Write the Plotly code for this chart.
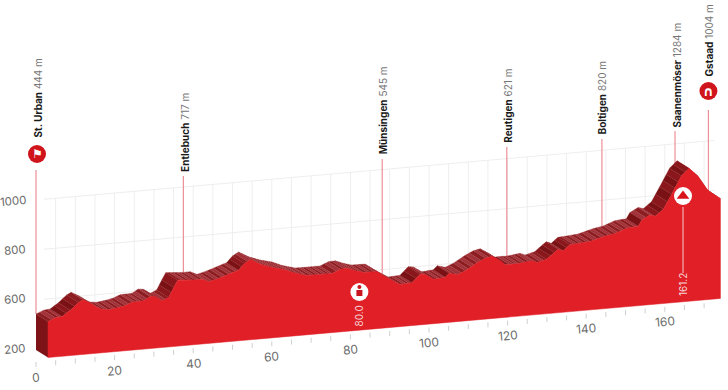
import plotly.graph_objects as go

# ---- data ----
KM = [0,1.9,3.6,5.7,7.8,8.9,10.8,12.5,13.7,15.4,18,19.7,21.4,24.4,26,27.3,29,30.7,32,33,37.5,39.2,40.9,43.4,46,48.5,50,51.5,54,57,60,62.5,65.9,69.3,72.3,74.4,76.1,78.2,80.3,83.7,85.8,88.4,89.6,92.6,94.7,96,98.1,101.1,102.1,104.1,106.2,109.2,111.3,113,115.1,116.3,118.4,119.8,123.1,124.4,126.9,129.8,131.1,132.8,135.4,137.9,141.7,144.3,147.3,150.2,151.1,153.2,154.5,156.6,158.7,161.2,163.1,165.4,167.9,171.1]
ELEV = [444,470,477,524,585,605,570,528,507,499,511,523,547,550,582,576,536,560,643,703,692,693,665,686,716,743,797,826,779,741,715,678,645,644,644,674,677,649,628,626,574,520,497,502,570,564,516,525,557,537,566,626,659,671,626,587,589,587,601,583,604,682,664,711,717,724,759,774,812,820,870,909,894,948,1071,1224,1283,1207,1076,997]
PLACES = ["St. Urban","Entlebuch","Münsingen","Reutigen","Boltigen","Saanenmöser","Gstaad"]
PLACE_ALT = ["444 m","717 m","545 m","621 m","820 m","1284 m","1004 m"]
PLACE_KM = [0,37.5,88.1,119.8,144,162.6,171.1]
PLACE_CREST = [444,692,530,587,774,1250,997]
KM_TICKS = [0,20,40,60,80,100,120,140,160]
ALT_TICKS = ["200","600","800","1000"]
ALT_GRID_M = [132,565,998,1431]
MINOR_KM = list(range(0,175,5))
SPRINT = ["80.0","161.2"]
SPRINT_KM = [80.0,161.2]

# ---- oblique projection (axes are km / metres) ----
PX_KM = 3.93
PX_M = 0.1155
BASE = 132
SHEAR = 0.0878*PX_KM/PX_M      # metres of rise per km
DX = 12/PX_KM
DY = -7.5/PX_M
def X(km, front=False, px=0): return km + (DX if front else 0) + px/PX_KM
def Y(km, e, front=False, px=0): return e + SHEAR*km + (DY if front else 0) - px/PX_M
def pts(kms, es, front=False):
    return [X(k,front) for k in kms],[Y(k,e,front) for k,e in zip(kms,es)]

fig = go.Figure()
def add(x,y,mode="lines",**k):
    fig.add_trace(go.Scatter(x=x,y=y,mode=mode,hoverinfo="skip",showlegend=False,**k))

# grid
GRID="#eeeeee"
for k in MINOR_KM[1:]:
    add([X(k),X(k)],[Y(k,BASE),Y(k,ALT_GRID_M[-1])],line=dict(color=GRID,width=1))
for m in ALT_GRID_M[1:]:
    add([X(2),X(172.5)],[Y(2,m),Y(172.5,m)],line=dict(color=GRID,width=1))

# pins
PIN_TOP_PX=[170,176,159,147,139,131,110]
PIN="#ec8f98"
LBL_BOTTOM=[140,174,156,145,136,130,78]
YPX=lambda p: BASE+(350-p)/PX_M
for k,c,t in zip(PLACE_KM,PLACE_CREST,PIN_TOP_PX):
    add([X(k),X(k)],[Y(k,c),YPX(t)],line=dict(color=PIN,width=1.2))

# ribbon facets: each segment is cut into narrow alternating strips (surface texture)
shades={"lo":"#8c1d21","hi":"#a3333a","dk":"#7a1215","dk2":"#8a171b"}
buckets={s:([],[]) for s in shades}
STRIP=0.85
n=0
for i in range(len(KM)-1):
    k0,k1,e0,e1=KM[i],KM[i+1],ELEV[i],ELEV[i+1]
    steep=(e1-e0)/(k1-k0)>22
    cuts=max(1,round((k1-k0)/STRIP))
    for j in range(cuts):
        a=k0+(k1-k0)*j/cuts; b=k0+(k1-k0)*(j+1)/cuts
        ea=e0+(e1-e0)*j/cuts; eb=e0+(e1-e0)*(j+1)/cuts
        n+=1
        s=("dk" if n%2 else "dk2") if steep else ("lo" if n%2 else "hi")
        bx,by=buckets[s]
        bx+=[X(a),X(b),X(b,True),X(a,True),X(a),None]
        by+=[Y(a,ea),Y(b,eb),Y(b,eb,True),Y(a,ea,True),Y(a,ea),None]
for s,(bx,by) in buckets.items():
    add(bx,by,fill="toself",fillcolor=shades[s],line=dict(width=0.3,color=shades[s]))

# left end face
add([X(0),X(0,True),X(0,True),X(0),X(0)],
    [Y(0,ELEV[0]),Y(0,ELEV[0],True),Y(0,BASE,True),Y(0,BASE),Y(0,ELEV[0])],
    fill="toself",fillcolor="#7d1316",line=dict(width=0))

# front face
fx,fy=pts(KM,ELEV,True)
bx,by=pts([KM[-1],KM[0]],[BASE,BASE],True)
add(fx+bx+[fx[0]],fy+by+[fy[0]],fill="toself",fillcolor="#e01f26",line=dict(width=0.5,color="#e01f26"))

# white stem on the front
add([X(161.2,True,1.5)]*2,[YPX(207),YPX(273)],line=dict(color="rgba(255,255,255,.65)",width=1.2))

# markers
def disc(x,y,col,size=18):
    add([x],[y],mode="markers",marker=dict(color=col,size=size,line=dict(width=0)))
ann=[]
def txt(x,y,t,**k):
    ann.append(dict(x=x,y=y,text=t,showarrow=False,**k))
ICONF=dict(family="DejaVu Sans")
disc(X(0,False,1),YPX(154),"#d0141c")
txt(X(0,False,1),YPX(154),"⚑",font=dict(size=12,color="white",**ICONF))
disc(X(171.1,False,0),YPX(91),"#d0141c")
txt(X(171.1),YPX(91),"<b>∩</b>",font=dict(size=13,color="white",**ICONF))
fd_x=X(80,True,-3); fk_x=X(161.2,True,1.5)
disc(fd_x,YPX(292),"white")
add([fd_x],[YPX(293)],mode="markers",marker=dict(symbol="square",color="#c8141c",size=6))
add([fd_x],[YPX(287)],mode="markers",marker=dict(symbol="circle",color="#c8141c",size=4))
disc(fk_x,YPX(196),"white")
add([fk_x],[YPX(196)],mode="markers",marker=dict(symbol="triangle-up",color="#d8141c",size=11))

# texts
FONT="Inter"
for n_,a,k,b in zip(PLACES,PLACE_ALT,PLACE_KM,LBL_BOTTOM):
    txt(X(k,False,1),YPX(b),f"<b>{n_}</b> <span style='color:#777'>{a}</span>",textangle=-90,
        xanchor="center",yanchor="bottom",font=dict(family=FONT,size=10,color="#1a1a1a"))
for s,k,xp,p in zip(SPRINT,SPRINT_KM,[-3,1.5],[316,285]):
    txt(X(k,True,xp),YPX(p),s,textangle=-90,font=dict(family=FONT,size=10,color="#f6d5d6"))
for k in KM_TICKS:
    txt(X(k),Y(k,BASE,False,27),str(k),textangle=-5,font=dict(family=FONT,size=12,color="#6a6a6a"))
for k in MINOR_KM:
    add([X(k),X(k)],[Y(k,BASE,False,12),Y(k,BASE,False,17)],line=dict(color="#cfcfcf",width=1))
for t,m,p in zip(ALT_TICKS,ALT_GRID_M,[349,299,250,201]):
    txt(X(0,False,-7),YPX(p),t,textangle=-5,xanchor="right",font=dict(family=FONT,size=11.5,color="#6a6a6a"))

fig.update_layout(width=728,height=390,margin=dict(l=0,r=0,t=0,b=0),
    plot_bgcolor="white",paper_bgcolor="white",annotations=ann,showlegend=False,
    xaxis=dict(range=[-36/PX_KM,(728-36)/PX_KM],visible=False,fixedrange=True),
    yaxis=dict(range=[BASE+(350-390)/PX_M,BASE+350/PX_M],visible=False,fixedrange=True))
fig.write_html("out.html",config=dict(displayModeBar=False),
               post_script="document.body.style.margin='0';document.documentElement.style.overflow='hidden';")
